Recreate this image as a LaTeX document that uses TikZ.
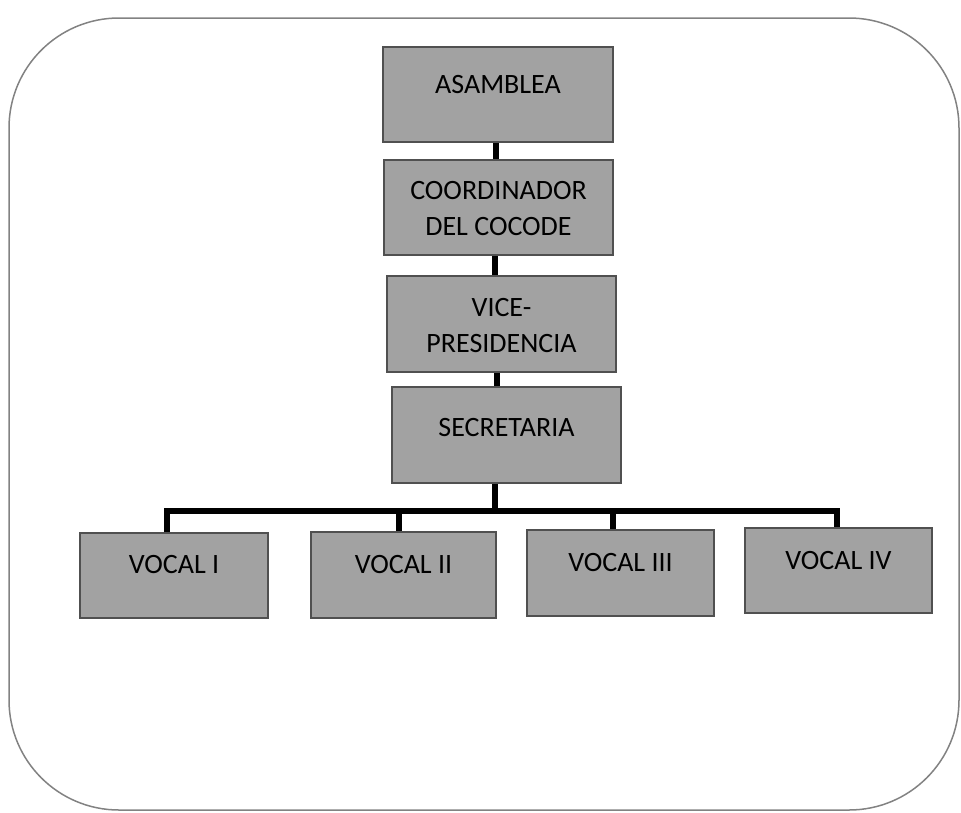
\documentclass[tikz,border=0pt]{standalone}
\usepackage{fontspec}
\setmainfont{Carlito}
\definecolor{boxfill}{RGB}{162,162,162}
\definecolor{boxline}{RGB}{80,80,80}
\definecolor{frameline}{RGB}{130,130,130}
\tikzset{
  orgbox/.style={draw=boxline, line width=1.5pt, fill=boxfill, rectangle, inner sep=0pt},
  orgtext/.style={font=\fontsize{28}{36}\selectfont, text=black, inner sep=0pt, align=center},
  conn/.style={draw=black, line width=5.5pt, line join=miter}
}
\begin{document}
\begin{tikzpicture}[x=1pt, y=-1pt]
\useasboundingbox (0,0) rectangle (961,812);
\draw[frameline, line width=1.5pt, rounded corners=110pt] (9,18) rectangle (959,810);

% boxes
\node[orgbox, minimum width=230pt, minimum height=95pt] (asam) at (498,94.5) {};
\node[orgbox, minimum width=229pt, minimum height=95pt] (coord) at (498.5,207.5) {};
\node[orgbox, minimum width=229pt, minimum height=96pt] (vice) at (501.5,324) {};
\node[orgbox, minimum width=229pt, minimum height=96pt] (secr) at (506.5,435) {};
\node[orgbox, minimum width=188pt, minimum height=85pt] (v1) at (174,575.5) {};
\node[orgbox, minimum width=185pt, minimum height=86pt] (v2) at (403.5,575) {};
\node[orgbox, minimum width=187pt, minimum height=86pt] (v3) at (620.5,573) {};
\node[orgbox, minimum width=187pt, minimum height=85pt] (v4) at (838.5,570.5) {};

% texts
\node[orgtext, anchor=base] (tasam) at (498,93) {ASAMBLEA};
\node[orgtext] (tcoord) at (498.5,209) {COORDINADOR\\DEL COCODE};
\node[orgtext] (tvice) at (501.5,326) {VICE-\\PRESIDENCIA};
\node[orgtext, anchor=base] (tsecr) at (506.5,436) {SECRETARIA};
\node[orgtext, anchor=base] (tv1) at (174,573) {VOCAL I};
\node[orgtext, anchor=base] (tv2) at (403.5,573) {VOCAL II};
\node[orgtext, anchor=base] (tv3) at (620.5,571) {VOCAL III};
\node[orgtext, anchor=base] (tv4) at (838.5,569) {VOCAL IV};

% connector coordinates
\coordinate (c1) at (496,0);
\coordinate (c2) at (495,0);
\coordinate (c3) at (497,0);
\coordinate (bm) at (495,511);
\coordinate (d1) at (167,511);
\coordinate (d2) at (399,511);
\coordinate (d3) at (613,511);
\coordinate (d4) at (837,511);

\draw[conn] (c1 |- asam.south) -- (c1 |- coord.north);
\draw[conn] (c2 |- coord.south) -- (c2 |- vice.north);
\draw[conn] (c3 |- vice.south) -- (c3 |- secr.north);
\draw[conn] (bm |- secr.south) -- (bm);
\draw[conn] (d1 |- v1.north) -- (d1) -- (d4) -- (d4 |- v4.north);
\draw[conn] (d2) -- (d2 |- v2.north);
\draw[conn] (d3) -- (d3 |- v3.north);
\end{tikzpicture}
\end{document}
